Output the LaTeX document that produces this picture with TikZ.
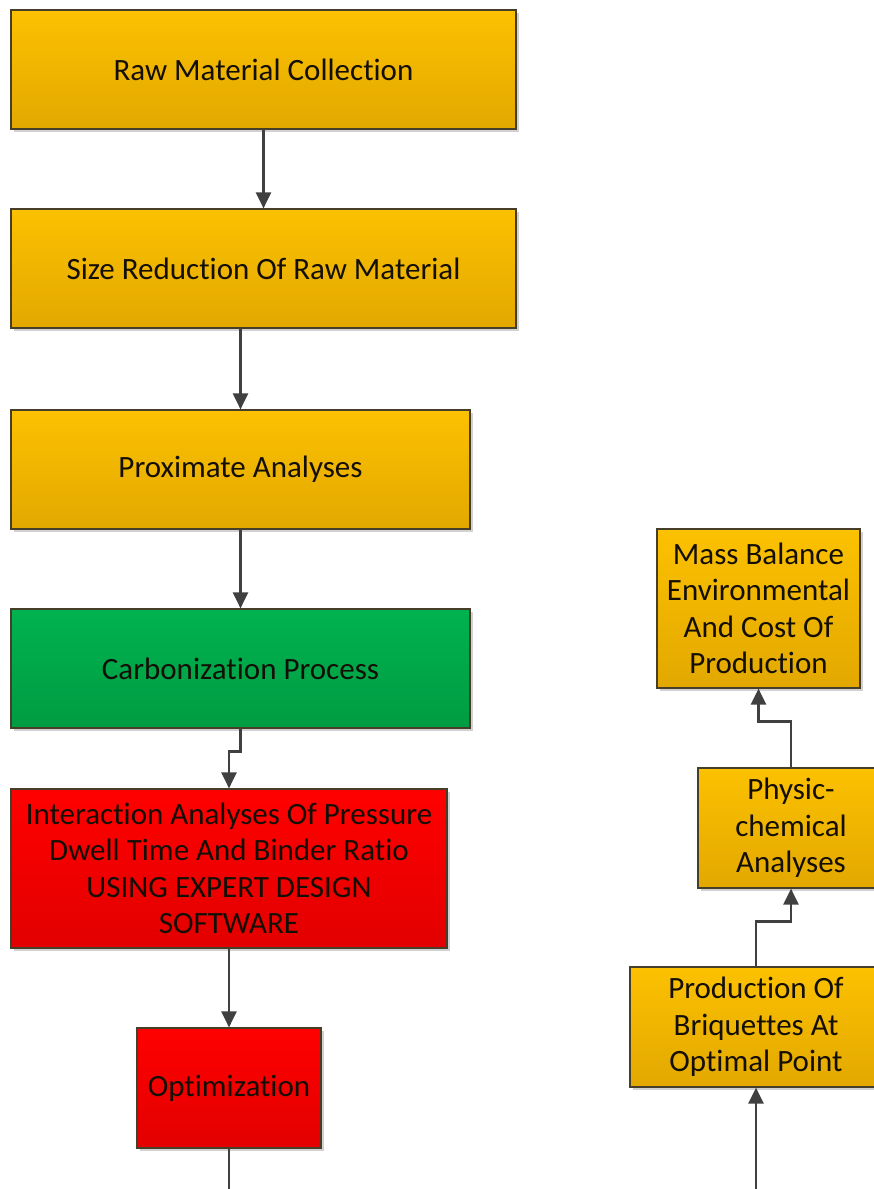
\documentclass[tikz,border=0pt]{standalone}
\usepackage{fontspec}
\setmainfont{Carlito}[Ligatures=NoCommon]
\usetikzlibrary{arrows.meta,shadows}
\definecolor{orT}{RGB}{252,193,0}
\definecolor{orB}{RGB}{226,168,0}
\definecolor{grT}{RGB}{0,178,80}
\definecolor{grB}{RGB}{0,156,66}
\definecolor{rdT}{RGB}{255,0,0}
\definecolor{rdB}{RGB}{226,0,0}
\definecolor{edge}{RGB}{70,62,40}
\definecolor{arrowc}{RGB}{64,64,64}
\definecolor{txt}{RGB}{20,15,5}
\tikzset{
  boxbase/.style={draw=edge, line width=1.2pt, inner sep=0pt, align=center,
    font=\fontsize{31}{36.5}\selectfont, text=txt,
    drop shadow={shadow xshift=3pt, shadow yshift=-3pt, fill=black!18, opacity=1}},
  orbox/.style={boxbase, top color=orT, bottom color=orB},
  grbox/.style={boxbase, top color=grT, bottom color=grB},
  rdbox/.style={boxbase, top color=rdT, bottom color=rdB},
  arr/.style={draw=arrowc, line width=2.4pt, -{Triangle[length=16pt,width=15pt]}},
  plain/.style={draw=arrowc, line width=2.4pt}
}
\begin{document}
\begin{tikzpicture}[x=1pt,y=-1pt]
\useasboundingbox (0,0) rectangle (874,1189);
\clip (0,0) rectangle (874,1189);
\fill[white] (0,0) rectangle (874,1189);
\node[orbox, minimum width=505pt, minimum height=119pt] (b1) at (263.5,69.5) {Raw Material Collection};
\node[orbox, minimum width=505pt, minimum height=119pt] (b2) at (263.5,268.5) {Size Reduction Of Raw Material};
\node[orbox, minimum width=459pt, minimum height=119pt] (b3) at (240.5,469.5) {Proximate Analyses};
\node[grbox, minimum width=459pt, minimum height=119pt] (b4) at (240.5,668.5) {Carbonization Process};
\node[rdbox, minimum width=436pt, minimum height=159pt] (b5) at (229,868.5) {Interaction Analyses Of Pressure\\Dwell Time And Binder Ratio\\USING EXPERT DESIGN\\SOFTWARE};
\node[rdbox, minimum width=184pt, minimum height=120pt] (b6) at (229,1088) {Optimization};
\node[orbox, minimum width=203pt, minimum height=159pt] (mb) at (758.5,608.5) {Mass Balance\\Environmental\\And Cost Of\\Production};
\node[orbox, minimum width=186pt, minimum height=120pt] (pc) at (791,828) {Physic-\\chemical\\Analyses};
\node[orbox, minimum width=252pt, minimum height=120pt] (pb) at (756,1027) {Production Of\\Briquettes At\\Optimal Point};
\coordinate (endL) at (229,1200);
\coordinate (startR) at (756,1200);
\draw[arr] (b1.south) -- (b2.north);
\draw[arr] (b3.north |- b2.south) -- (b3.north);
\draw[arr] (b3.south) -- (b4.north);
\draw[arr] (b4.south) -- ++(0,23) -| (b5.north);
\draw[arr] (b5.south) -- (b6.north);
\draw[plain] (b6.south) -- (endL);
\draw[arr] (startR) -- (pb.south);
\draw[arr] (pb.north) -- ++(0,-45) -| (pc.south);
\draw[arr] (pc.north) -- ++(0,-46) -| (mb.south);
\end{tikzpicture}
\end{document}
